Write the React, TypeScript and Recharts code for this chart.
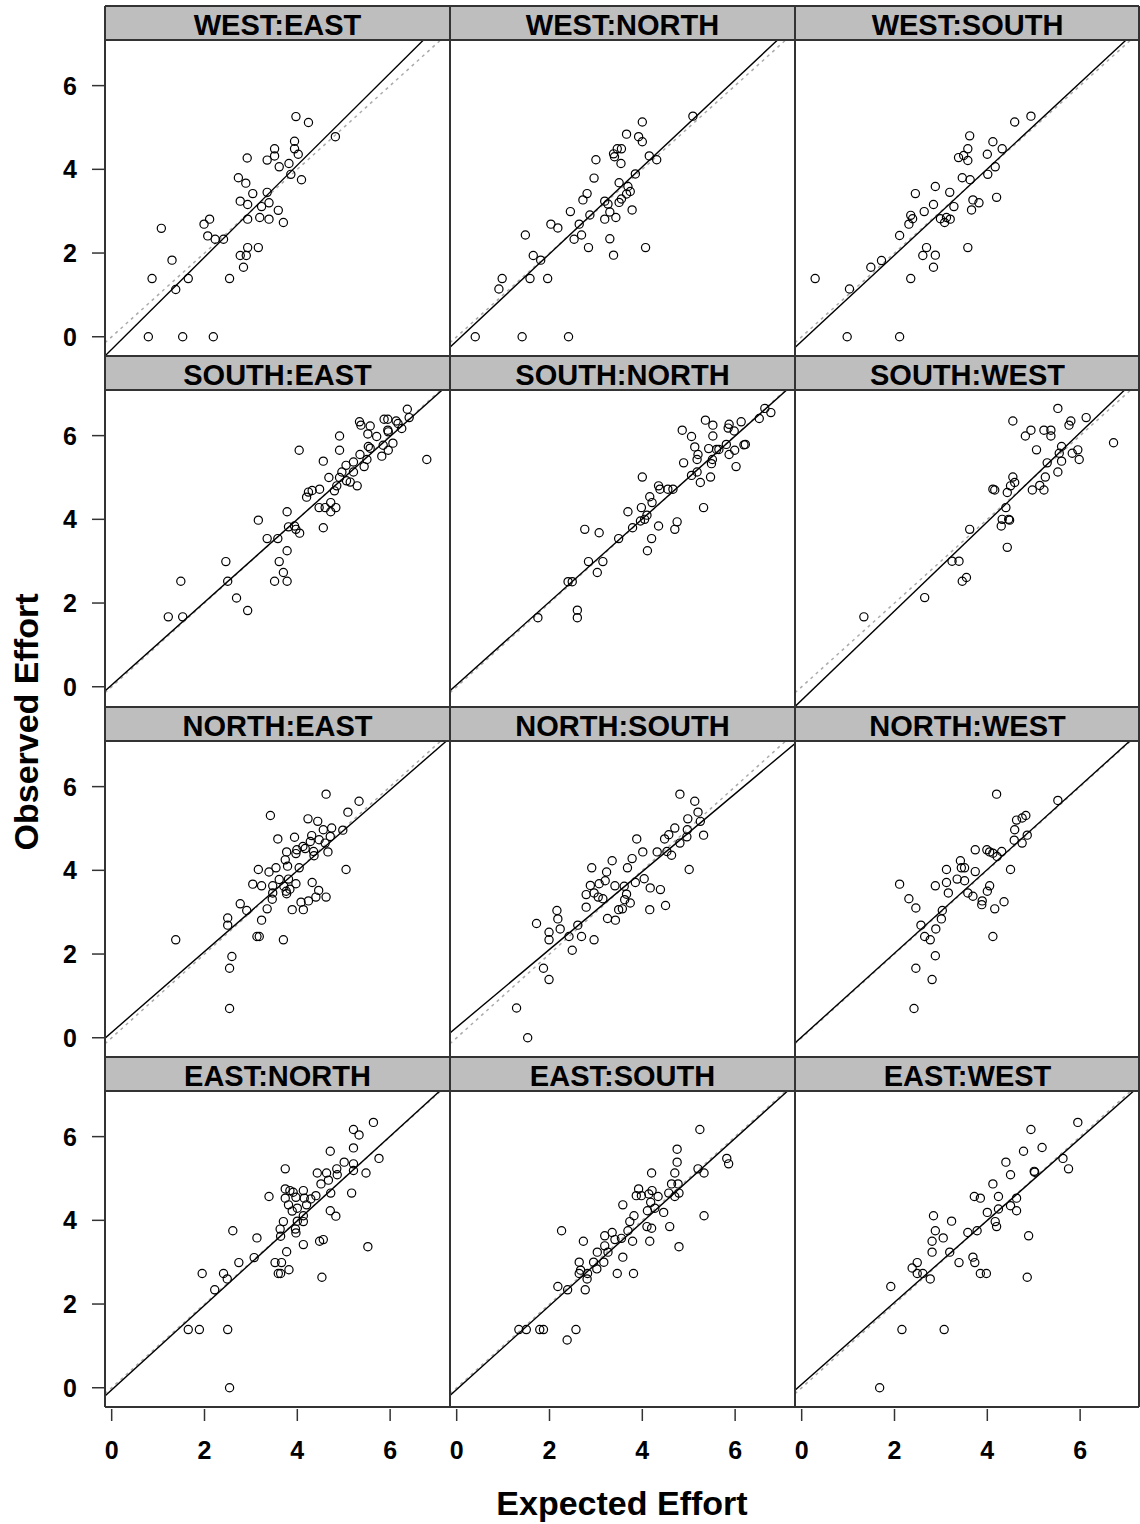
import { ScatterChart, Scatter, XAxis, YAxis, ReferenceLine } from 'recharts';

// axis setup shared by every panel
const axisTicks = [0, 2, 4, 6];
const xDomain: [number, number] = [-0.144, 7.29];
const yDomain: [number, number] = [-0.46, 7.09];

const panelTitles = [
  'WEST:EAST', 'WEST:NORTH', 'WEST:SOUTH',
  'SOUTH:EAST', 'SOUTH:NORTH', 'SOUTH:WEST',
  'NORTH:EAST', 'NORTH:SOUTH', 'NORTH:WEST',
  'EAST:NORTH', 'EAST:SOUTH', 'EAST:WEST',
];

// fitted observed ~ expected line for each panel
const fitIntercept = [-0.30, -0.10, -0.11, 0.04, 0.05, -0.32, 0.13, 0.25, 0.02, -0.05, -0.04, 0.08];
const fitSlope = [1.10, 1.04, 1.03, 0.99, 0.99, 1.065, 0.965, 0.93, 1.0, 1.01, 1.0, 0.98];

// [expected, observed] pairs per origin:destination
const westEast = [[3.97,5.26],[4.24,5.12],[4.82,4.78],[3.94,4.67],[3.51,4.49],[3.94,4.49],[4.02,4.36],[3.51,4.32],[2.92,4.27],[3.35,4.22],[3.82,4.14],[3.61,4.06],[3.86,3.88],[4.09,3.75],[2.73,3.80],[2.89,3.67],[3.04,3.42],[3.35,3.45],[2.77,3.24],[2.93,3.16],[3.39,3.20],[3.23,3.11],[3.59,3.02],[2.93,2.81],[3.19,2.85],[3.39,2.81],[3.70,2.73],[1.99,2.69],[2.11,2.81],[1.07,2.59],[2.07,2.41],[2.23,2.33],[2.41,2.33],[2.93,2.13],[3.16,2.13],[2.77,1.94],[2.90,1.94],[2.84,1.66],[1.30,1.83],[0.87,1.39],[1.65,1.39],[2.54,1.39],[1.38,1.13],[0.79,0],[1.53,0],[2.19,0]];
const westNorth = [[5.09,5.27],[4.00,5.13],[3.66,4.84],[3.92,4.78],[4.00,4.66],[3.38,4.37],[3.46,4.49],[3.55,4.49],[3.40,4.30],[3.54,4.14],[3.00,4.23],[4.15,4.32],[4.31,4.23],[3.85,3.89],[2.96,3.79],[3.50,3.68],[3.69,3.59],[3.74,3.47],[3.66,3.41],[2.81,3.42],[2.72,3.27],[3.19,3.24],[3.26,3.17],[3.50,3.21],[3.55,3.29],[2.45,2.99],[2.87,2.91],[3.30,2.98],[3.19,2.81],[3.43,2.85],[3.78,3.03],[2.03,2.69],[2.18,2.60],[2.64,2.69],[1.48,2.43],[2.53,2.33],[2.69,2.43],[2.84,2.13],[3.30,2.34],[3.38,1.95],[4.07,2.13],[1.65,1.94],[1.81,1.83],[0.98,1.39],[0.91,1.14],[1.58,1.39],[1.96,1.39],[0.40,0],[1.41,0],[2.41,0]];
const westSouth = [[4.94,5.27],[4.59,5.13],[3.62,4.80],[4.12,4.66],[3.58,4.49],[4.32,4.49],[4.00,4.36],[3.38,4.28],[3.49,4.33],[3.58,4.21],[4.17,4.06],[4.01,3.88],[3.46,3.80],[3.63,3.75],[2.88,3.59],[2.45,3.42],[3.19,3.45],[4.20,3.33],[3.69,3.27],[3.82,3.20],[2.84,3.16],[2.64,2.99],[3.28,3.11],[3.66,3.03],[2.35,2.90],[2.39,2.82],[2.31,2.69],[2.99,2.82],[3.12,2.85],[3.20,2.81],[3.08,2.73],[2.11,2.42],[2.69,2.13],[2.61,1.94],[2.88,1.95],[3.58,2.13],[1.49,1.66],[1.72,1.82],[2.84,1.66],[2.35,1.39],[0.29,1.39],[1.03,1.14],[0.98,0],[2.11,0]];
const southEast = [[6.37,6.63],[6.41,6.43],[5.87,6.39],[5.95,6.39],[5.34,6.33],[5.37,6.25],[5.57,6.23],[6.13,6.35],[6.17,6.29],[6.25,6.17],[5.95,6.13],[5.52,6.04],[5.71,5.98],[4.91,5.99],[5.96,6.09],[4.04,5.65],[4.91,5.65],[5.53,5.74],[5.57,5.70],[5.85,5.77],[6.06,5.82],[5.96,5.65],[5.82,5.51],[6.79,5.43],[4.56,5.39],[5.35,5.55],[5.50,5.43],[5.21,5.37],[5.05,5.29],[5.44,5.26],[4.96,5.13],[5.21,5.13],[4.68,5.00],[4.91,5.00],[5.06,4.92],[5.14,4.89],[4.85,4.80],[5.29,4.80],[4.80,4.68],[4.48,4.72],[4.32,4.69],[4.24,4.65],[4.20,4.53],[4.47,4.28],[4.60,4.28],[4.72,4.40],[4.72,4.18],[4.83,4.28],[3.16,3.98],[3.78,4.18],[3.81,3.82],[3.94,3.84],[3.97,3.76],[4.05,3.67],[4.56,3.80],[3.35,3.54],[3.58,3.54],[3.78,3.25],[3.61,2.99],[3.70,2.73],[3.51,2.52],[3.78,2.52],[2.46,2.99],[2.50,2.52],[1.49,2.52],[2.69,2.12],[2.93,1.82],[1.22,1.67],[1.53,1.67]];
const southNorth = [[6.64,6.65],[6.77,6.55],[6.52,6.41],[5.36,6.37],[5.52,6.25],[5.87,6.27],[6.13,6.33],[5.85,6.18],[5.98,6.11],[4.86,6.13],[5.06,5.98],[5.52,5.99],[5.13,5.73],[5.43,5.69],[5.65,5.67],[5.81,5.79],[6.19,5.78],[6.22,5.79],[5.99,5.65],[5.87,5.55],[5.20,5.55],[5.18,5.43],[5.51,5.43],[5.49,5.33],[4.89,5.35],[6.02,5.26],[5.18,5.13],[5.06,5.05],[5.47,5.01],[5.25,4.88],[4.00,5.01],[4.35,4.80],[4.38,4.72],[4.55,4.72],[4.66,4.72],[4.16,4.54],[4.21,4.40],[5.32,4.28],[3.69,4.18],[3.98,4.28],[4.10,4.10],[4.05,4.00],[3.96,3.96],[3.79,3.80],[4.35,3.84],[4.75,3.94],[4.70,3.76],[2.76,3.76],[3.07,3.68],[3.49,3.54],[4.20,3.54],[4.11,3.25],[2.84,2.99],[3.15,2.99],[3.03,2.73],[2.40,2.51],[2.49,2.51],[2.60,1.83],[2.60,1.65],[1.75,1.65],[5.60,5.67]];
const southWest = [[5.52,6.65],[6.13,6.43],[5.80,6.35],[5.76,6.25],[4.55,6.35],[4.94,6.13],[5.22,6.13],[5.37,6.13],[4.82,5.99],[5.37,5.99],[6.72,5.83],[5.06,5.66],[5.60,5.74],[5.55,5.58],[5.83,5.58],[5.95,5.66],[5.98,5.43],[5.60,5.39],[5.29,5.35],[5.52,5.13],[5.25,5.01],[4.55,5.01],[4.59,4.88],[4.50,4.80],[5.13,4.81],[4.97,4.70],[5.22,4.70],[4.12,4.72],[4.16,4.70],[4.43,4.64],[4.40,4.28],[4.32,4.00],[4.46,4.00],[4.48,3.98],[4.30,3.84],[3.62,3.76],[4.43,3.33],[3.24,3.00],[3.39,3.00],[3.55,2.61],[3.46,2.52],[2.65,2.13],[1.34,1.67]];
const northEast = [[4.62,5.82],[5.33,5.65],[3.42,5.31],[5.09,5.39],[4.23,5.23],[4.44,5.17],[4.56,4.97],[4.74,5.01],[4.98,4.96],[4.71,4.81],[4.31,4.83],[3.94,4.79],[3.58,4.75],[4.47,4.73],[4.60,4.65],[4.28,4.69],[4.12,4.57],[4.17,4.52],[3.99,4.49],[4.35,4.45],[4.66,4.44],[3.77,4.44],[3.97,4.40],[4.36,4.35],[3.74,4.25],[3.54,4.06],[3.79,4.10],[4.04,4.06],[3.16,4.02],[3.39,3.96],[5.05,4.02],[3.61,3.78],[3.81,3.79],[3.04,3.67],[3.23,3.63],[3.47,3.63],[3.71,3.62],[3.97,3.68],[4.32,3.71],[3.84,3.55],[3.77,3.44],[3.76,3.50],[4.46,3.52],[3.47,3.46],[3.46,3.31],[4.40,3.36],[4.62,3.36],[4.24,3.27],[4.08,3.24],[2.77,3.20],[2.91,3.04],[3.35,3.08],[3.89,3.06],[4.13,3.06],[3.23,2.81],[2.50,2.86],[2.50,2.69],[3.13,2.42],[3.18,2.42],[3.70,2.34],[1.38,2.34],[2.59,1.94],[2.54,1.66],[2.54,0.70]];
const northSouth = [[4.81,5.82],[5.13,5.65],[5.20,5.39],[4.98,5.23],[5.25,5.17],[4.70,5.01],[4.97,4.97],[5.32,4.84],[4.57,4.85],[4.48,4.75],[3.88,4.75],[4.81,4.65],[4.96,4.80],[4.32,4.44],[4.53,4.45],[4.63,4.36],[4.01,4.44],[3.78,4.28],[3.35,4.23],[3.68,4.06],[2.91,4.06],[5.01,4.02],[3.23,3.96],[3.20,3.75],[3.07,3.68],[2.88,3.64],[3.41,3.63],[3.61,3.62],[3.85,3.71],[4.04,3.80],[4.17,3.58],[4.39,3.54],[2.79,3.42],[2.96,3.46],[3.05,3.36],[3.15,3.32],[3.66,3.43],[3.62,3.30],[3.74,3.22],[2.79,3.12],[3.49,3.06],[3.57,3.08],[4.16,3.06],[4.50,3.16],[2.16,3.04],[2.18,2.84],[3.25,2.85],[3.42,2.81],[1.72,2.73],[2.23,2.60],[2.61,2.69],[1.99,2.52],[1.99,2.34],[2.42,2.42],[2.69,2.42],[2.96,2.34],[2.49,2.09],[1.87,1.66],[1.99,1.39],[1.29,0.71],[1.53,0]];
const northWest = [[4.20,5.82],[5.52,5.67],[4.83,5.31],[4.63,5.20],[4.75,5.25],[4.59,4.97],[4.86,4.84],[4.58,4.72],[4.75,4.65],[3.74,4.49],[3.99,4.49],[4.05,4.44],[4.12,4.41],[4.31,4.45],[4.21,4.33],[3.42,4.23],[3.44,4.06],[3.51,4.06],[3.12,4.02],[3.74,3.97],[4.50,4.02],[3.35,3.79],[3.12,3.71],[3.51,3.75],[2.11,3.67],[2.88,3.63],[4.05,3.63],[3.16,3.46],[3.58,3.46],[4.00,3.50],[3.69,3.38],[2.31,3.32],[3.89,3.27],[3.88,3.18],[4.36,3.25],[2.46,3.10],[3.03,3.04],[4.16,3.08],[3.01,2.84],[2.57,2.69],[2.89,2.60],[2.65,2.42],[2.77,2.34],[4.12,2.42],[2.88,1.96],[2.46,1.66],[2.81,1.39],[2.42,0.70]];
const eastNorth = [[5.64,6.34],[5.21,6.17],[5.33,6.04],[5.21,5.73],[4.71,5.65],[5.76,5.48],[5.01,5.39],[5.21,5.35],[5.21,5.19],[4.85,5.23],[3.74,5.23],[4.43,5.13],[4.63,5.13],[5.48,5.13],[4.86,5.09],[4.67,4.96],[4.51,4.87],[3.74,4.75],[3.84,4.71],[3.91,4.67],[4.13,4.71],[4.72,4.65],[5.17,4.65],[3.39,4.57],[3.74,4.53],[3.97,4.55],[4.15,4.53],[4.40,4.59],[4.29,4.51],[3.81,4.37],[4.20,4.37],[4.00,4.29],[3.89,4.22],[4.71,4.23],[4.83,4.10],[4.13,4.11],[3.70,3.97],[4.00,3.98],[4.13,3.97],[2.61,3.75],[3.63,3.79],[3.96,3.79],[3.64,3.62],[3.97,3.70],[3.13,3.58],[4.13,3.42],[4.48,3.50],[4.56,3.54],[5.52,3.37],[3.77,3.25],[3.07,3.11],[2.74,2.99],[3.52,2.99],[3.66,2.99],[3.59,2.73],[3.64,2.73],[3.82,2.82],[4.53,2.64],[1.95,2.73],[2.41,2.73],[2.49,2.60],[2.22,2.34],[1.65,1.39],[1.89,1.39],[2.50,1.39],[2.54,0]];
const eastSouth = [[5.24,6.17],[4.75,5.70],[4.75,5.39],[5.82,5.48],[5.86,5.35],[5.20,5.23],[5.33,5.13],[4.70,5.13],[4.20,5.13],[4.63,4.87],[4.77,4.87],[3.92,4.75],[4.21,4.71],[3.87,4.59],[3.98,4.59],[4.14,4.63],[4.34,4.57],[4.57,4.65],[4.70,4.57],[4.79,4.65],[3.58,4.37],[4.18,4.43],[4.27,4.29],[4.11,4.23],[4.46,4.19],[3.82,4.11],[3.73,3.97],[5.33,4.11],[3.69,3.75],[4.10,3.85],[4.20,3.81],[4.59,3.85],[2.26,3.75],[3.19,3.63],[3.35,3.71],[3.41,3.54],[3.55,3.57],[3.79,3.50],[4.16,3.50],[2.73,3.50],[3.19,3.39],[3.26,3.24],[3.03,3.24],[4.79,3.37],[3.58,3.12],[2.64,3.00],[2.95,3.00],[3.17,3.00],[3.02,2.84],[2.67,2.81],[2.82,2.73],[2.64,2.73],[2.81,2.60],[3.46,2.73],[3.81,2.73],[2.18,2.42],[2.39,2.34],[2.77,2.34],[1.34,1.39],[1.50,1.39],[1.79,1.39],[1.87,1.39],[2.57,1.39],[2.38,1.14]];
const eastWest = [[5.95,6.34],[4.94,6.17],[5.18,5.74],[4.78,5.65],[5.63,5.48],[5.75,5.23],[4.40,5.39],[5.01,5.17],[5.02,5.15],[4.50,5.09],[4.12,4.87],[3.72,4.57],[3.85,4.53],[4.24,4.57],[4.63,4.53],[4.50,4.35],[4.24,4.27],[4.63,4.23],[4.00,4.19],[2.84,4.11],[4.17,3.97],[4.20,3.85],[3.23,3.98],[3.58,3.71],[3.78,3.75],[2.88,3.75],[3.05,3.58],[2.81,3.50],[4.89,3.63],[2.81,3.24],[3.19,3.24],[3.69,3.12],[3.73,2.99],[3.39,2.99],[2.49,2.99],[2.38,2.86],[2.49,2.73],[2.61,2.73],[2.77,2.60],[3.85,2.73],[3.98,2.73],[4.86,2.64],[1.92,2.42],[2.16,1.39],[3.07,1.39],[1.68,0]];

const panelData = [
  westEast, westNorth, westSouth,
  southEast, southNorth, southWest,
  northEast, northSouth, northWest,
  eastNorth, eastSouth, eastWest,
];

const FONT = '"Liberation Sans", Arial, sans-serif';
const PLOT_LEFT = 105;
const PLOT_W = 345;
const PLOT_H = 316;
const STRIP_H = 34;
const ROW_TOPS = [6, 356, 707, 1057];
const BORDER = '#333333';

// open circle marker
const ring = (props: any) => (
  <circle cx={props.cx} cy={props.cy} r={4.1} fill="none" stroke="#000" strokeWidth={1.2} />
);

const YTick = (props: any) => {
  const { x, y, payload } = props;
  return (
    <g>
      <line x1={x - 1} x2={x - 13} y1={y} y2={y} stroke={BORDER} strokeWidth={1.5} />
      <text x={x - 28} y={y + 9} textAnchor="end" fontFamily={FONT} fontWeight="bold" fontSize={25} fill="#000">
        {payload.value}
      </text>
    </g>
  );
};

const XTick = (props: any) => {
  const { x, y, payload } = props;
  return (
    <g>
      <line x1={x} x2={x} y1={y + 2} y2={y + 14} stroke={BORDER} strokeWidth={1.5} />
      <text x={x} y={y + 52} textAnchor="middle" fontFamily={FONT} fontWeight="bold" fontSize={25} fill="#000">
        {payload.value}
      </text>
    </g>
  );
};

function Panel({ idx }: { idx: number }) {
  const row = Math.floor(idx / 3);
  const col = idx % 3;
  const isLeft = col === 0;
  const isBottom = row === 3;
  const yAxisW = isLeft ? PLOT_LEFT : 0;
  const xAxisH = isBottom ? 70 : 0;
  const width = PLOT_W + yAxisW;
  const height = PLOT_H + xAxisH;
  const left = PLOT_LEFT + col * PLOT_W - yAxisW;
  const top = ROW_TOPS[row] + STRIP_H;

  const pts = panelData[idx].map(([x, y]) => ({ x, y }));
  const a = fitIntercept[idx];
  const b = fitSlope[idx];
  const fit = [
    { x: xDomain[0], y: a + b * xDomain[0] },
    { x: xDomain[1], y: a + b * xDomain[1] },
  ];
  const identity = [
    { x: xDomain[0], y: xDomain[0] },
    { x: xDomain[1], y: xDomain[1] },
  ];

  return (
    <div style={{ position: 'absolute', left, top, width, height }}>
      <ScatterChart width={width} height={height} margin={{ top: 0, right: 0, bottom: 0, left: 0 }}>
        <XAxis
          type="number"
          dataKey="x"
          domain={xDomain}
          ticks={axisTicks}
          interval={0}
          allowDataOverflow
          hide={!isBottom}
          height={xAxisH}
          axisLine={false}
          tickLine={false}
          tickSize={0}
          tickMargin={0}
          tick={XTick}
        />
        <YAxis
          type="number"
          dataKey="y"
          domain={yDomain}
          ticks={axisTicks}
          interval={0}
          allowDataOverflow
          hide={!isLeft}
          width={yAxisW}
          axisLine={false}
          tickLine={false}
          tickSize={0}
          tickMargin={0}
          tick={YTick}
        />
        <ReferenceLine segment={identity} stroke="#aaaaaa" strokeWidth={1.5} strokeDasharray="3 4" ifOverflow="hidden" />
        <ReferenceLine segment={fit} stroke="#000" strokeWidth={1.4} ifOverflow="hidden" />
        <Scatter data={pts} shape={ring} isAnimationActive={false} />
      </ScatterChart>
    </div>
  );
}

export default function App() {
  const colLines = [0, 1, 2].map((c) => PLOT_LEFT + c * PLOT_W).concat([1139]);
  const bottom = ROW_TOPS[3] + STRIP_H + PLOT_H;
  return (
    <div style={{ position: 'absolute', left: 0, top: 0, width: 1140, height: 1524, background: '#fff', overflow: 'hidden' }}>
      {panelTitles.map((_, i) => (
        <Panel key={i} idx={i} />
      ))}
      <svg width={1140} height={1524} style={{ position: 'absolute', left: 0, top: 0, pointerEvents: 'none' }}>
        {panelTitles.map((t, i) => {
          const row = Math.floor(i / 3);
          const col = i % 3;
          const x = PLOT_LEFT + col * PLOT_W;
          return (
            <g key={t}>
              <rect x={x} y={ROW_TOPS[row]} width={col === 2 ? 1139 - x : PLOT_W} height={STRIP_H} fill="#bebebe" />
              <text
                x={x + PLOT_W / 2}
                y={ROW_TOPS[row] + 29}
                textAnchor="middle"
                fontFamily={FONT}
                fontWeight="bold"
                fontSize={29}
                fill="#000"
              >
                {t}
              </text>
            </g>
          );
        })}
        {colLines.map((x) => (
          <line key={`v${x}`} x1={x} x2={x} y1={ROW_TOPS[0]} y2={bottom} stroke={BORDER} strokeWidth={2} />
        ))}
        {ROW_TOPS.flatMap((y) => [y, y + STRIP_H]).concat([bottom]).map((y) => (
          <line key={`h${y}`} x1={PLOT_LEFT} x2={1139} y1={y} y2={y} stroke={BORDER} strokeWidth={2} />
        ))}
        <text x={622} y={1515} textAnchor="middle" fontFamily={FONT} fontWeight="bold" fontSize={34} fill="#000">
          Expected Effort
        </text>
        <text
          transform="translate(38,722) rotate(-90)"
          textAnchor="middle"
          fontFamily={FONT}
          fontWeight="bold"
          fontSize={34}
          fill="#000"
        >
          Observed Effort
        </text>
      </svg>
    </div>
  );
}
